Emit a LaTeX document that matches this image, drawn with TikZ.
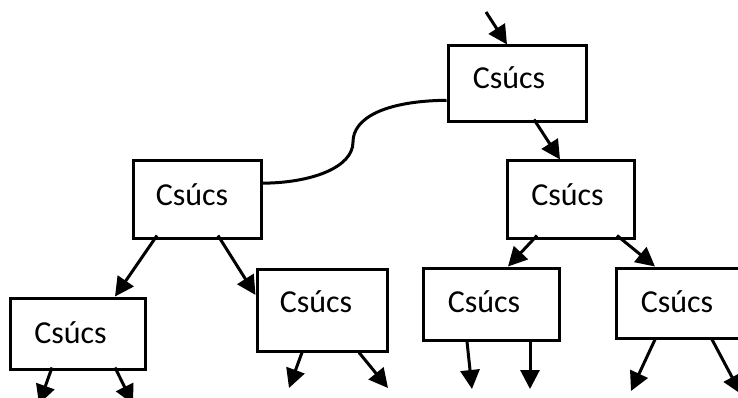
\documentclass[tikz,border=0pt]{standalone}
\usepackage{fontspec}
\setmainfont{Carlito}
\usetikzlibrary{arrows.meta}
\begin{document}
\begin{tikzpicture}[x=1pt,y=-1pt,
  box/.style 2 args={draw, line width=3pt, minimum width=#1pt, minimum height=#2pt, inner sep=0pt},
  lbl/.style={font=\fontsize{32}{38}\selectfont, inner sep=0pt},
  arr/.style={line width=3pt, -{Triangle[length=19pt,width=19pt]}},
  link/.style={line width=3pt}]
\useasboundingbox (0,0) rectangle (738,398);
% boxes
\node[box={138}{76}, label={[lbl,xshift=-8pt,yshift=6pt]center:Csúcs}] (top) at (517,84) {};
\node[box={128}{77}, label={[lbl,xshift=-5pt,yshift=5pt]center:Csúcs}] (l) at (197,199.5) {};
\node[box={127}{77}, label={[lbl,xshift=-3pt,yshift=5pt]center:Csúcs}] (r) at (570.5,199.5) {};
\node[box={135}{71}, label={[lbl,xshift=-7pt,yshift=1pt]center:Csúcs}] (ll) at (77.5,333.5) {};
\node[box={130}{82}, label={[lbl,xshift=-6pt,yshift=8pt]center:Csúcs}] (lr) at (322,310) {};
\node[box={136}{72}, label={[lbl,xshift=-7pt,yshift=2pt]center:Csúcs}] (rl) at (491,304) {};
\node[box={144}{70}, label={[lbl,xshift=-11pt,yshift=1pt]center:Csúcs}] (rr) at (688,303) {};
% free ends
\coordinate (in) at (486,12);
\coordinate (ll1) at (39,404);
\coordinate (ll2) at (133,404);
\coordinate (lr1) at (289,388);
\coordinate (lr2) at (388,388);
\coordinate (rl1) at (472,389);
\coordinate (rl2) at (530,389);
\coordinate (rr1) at (631,391);
\coordinate (rr2) at (741,394);
% connectors
\draw[arr] (in) -- ([xshift=-10pt]top.north);
\draw[arr] ([xshift=17pt,yshift=4pt]top.south) -- ([xshift=-10.5pt]r.north);
\draw[link] (top.193) .. controls (385,101) and (353,118) .. (353,142)
  .. controls (353,168) and (310,183) .. (l.14);
\draw[arr] ([xshift=-40pt,yshift=4pt]l.south) -- ([xshift=37.5pt]ll.north);
\draw[arr] ([xshift=21pt,yshift=4pt]l.south) -- ([yshift=15pt]lr.west);
\draw[arr] ([xshift=-33.5pt,yshift=4pt]r.south) -- ([xshift=17pt]rl.north);
\draw[arr] ([xshift=46.5pt,yshift=4pt]r.south) -- ([xshift=-33pt]rr.north);
\draw[arr] ([xshift=-25.5pt,yshift=3pt]ll.south) -- (ll1);
\draw[arr] ([xshift=37.5pt,yshift=3pt]ll.south) -- (ll2);
\draw[arr] ([xshift=-20pt]lr.south) -- (lr1);
\draw[arr] ([xshift=37pt]lr.south) -- (lr2);
\draw[arr] ([xshift=-24pt]rl.south) -- (rl1);
\draw[arr] ([xshift=39pt]rl.south) -- (rl2);
\draw[arr] ([xshift=-33pt]rr.south) -- (rr1);
\draw[arr] ([xshift=24pt]rr.south) -- (rr2);
\end{tikzpicture}
\end{document}
